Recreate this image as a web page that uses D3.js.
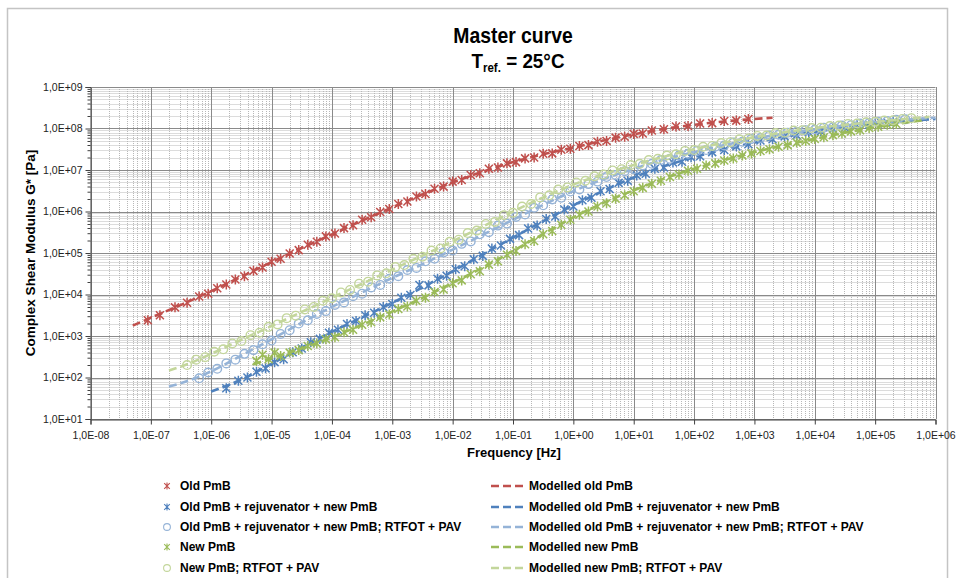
<!DOCTYPE html>
<html>
<head>
<meta charset="utf-8">
<script src="https://cdn.jsdelivr.net/npm/d3@7"></script>
<style>
  html, body { margin: 0; padding: 0; background: #fff; }
  svg { display: block; }
  text { font-family: "Liberation Sans", Arial, sans-serif; }
</style>
</head>
<body>
<svg id="chart" width="958" height="578"></svg>
<script>
// ---- Tick values ----
const xTicks = [1e-8,1e-7,1e-6,1e-5,1e-4,1e-3,1e-2,1e-1,1e0,1e1,1e2,1e3,1e4,1e5,1e6];
const yTicks = [1e1,1e2,1e3,1e4,1e5,1e6,1e7,1e8,1e9];

// ---- Measured data: [log10 frequency (Hz), log10 |G*| (Pa)] ----
const oldPmB = [
 [-7.05,3.38],[-6.85,3.50],[-6.6,3.69],[-6.4,3.80],[-6.2,3.95],[-6.05,4.02],[-5.9,4.15],[-5.75,4.24],
 [-5.6,4.36],[-5.45,4.44],[-5.3,4.57],[-5.15,4.65],[-5.0,4.79],[-4.85,4.86],[-4.7,4.99],[-4.55,5.07],
 [-4.4,5.20],[-4.25,5.27],[-4.1,5.40],[-3.95,5.47],[-3.8,5.60],[-3.65,5.67],[-3.5,5.80],[-3.35,5.86],
 [-3.2,5.99],[-3.05,6.06],[-2.9,6.18],[-2.75,6.24],[-2.6,6.36],[-2.45,6.42],[-2.3,6.55],[-2.15,6.60],
 [-2.0,6.72],[-1.85,6.76],[-1.7,6.88],[-1.55,6.92],[-1.4,7.03],[-1.25,7.06],[-1.1,7.16],[-0.95,7.19],
 [-0.8,7.28],[-0.65,7.30],[-0.5,7.39],[-0.35,7.40],[-0.2,7.49],[-0.05,7.51],[0.1,7.58],[0.25,7.60],
 [0.4,7.68],[0.55,7.70],[0.7,7.78],[0.85,7.80],[1.0,7.87],[1.15,7.88],[1.3,7.95],[1.5,7.98],
 [1.7,8.05],[1.9,8.06],[2.1,8.12],[2.3,8.13],[2.5,8.18],[2.7,8.19],[2.9,8.23]
];
const oldRejNew = [
 [-5.75,1.74],[-5.55,1.92],[-5.4,2.00],[-5.25,2.14],[-5.1,2.22],[-4.95,2.37],[-4.8,2.44],[-4.65,2.61],
 [-4.5,2.70],[-4.35,2.85],[-4.2,2.93],[-4.05,3.08],[-3.9,3.15],[-3.75,3.29],[-3.6,3.36],[-3.45,3.50],
 [-3.3,3.56],[-3.15,3.70],[-3.0,3.77],[-2.85,3.92],[-2.7,3.99],[-2.55,4.23],[-2.4,4.22],[-2.25,4.38],
 [-2.1,4.45],[-1.95,4.61],[-1.8,4.68],[-1.65,4.85],[-1.5,4.93],[-1.35,5.11],[-1.2,5.18],[-1.05,5.34],
 [-0.9,5.43],[-0.75,5.59],[-0.6,5.66],[-0.45,5.82],[-0.3,5.88],[-0.15,6.05],[0.0,6.12],[0.15,6.27],
 [0.3,6.33],[0.45,6.49],[0.6,6.54],[0.75,6.69],[0.9,6.74],[1.05,6.87],[1.2,6.91],[1.35,7.03],
 [1.5,7.06],[1.65,7.18],[1.8,7.20],[1.95,7.31],[2.1,7.33],[2.3,7.43],[2.5,7.48],[2.7,7.57],
 [2.9,7.62],[3.1,7.71],[3.3,7.74],[3.5,7.81],[3.7,7.84],[3.9,7.91],[4.1,7.93],[4.3,8.00],
 [4.5,8.02],[4.7,8.08],[4.9,8.09],[5.1,8.14],[5.3,8.16]
];
const oldRejNewAged = [
 [-6.2,1.98],[-6.05,2.12],[-5.9,2.21],[-5.75,2.34],[-5.6,2.43],[-5.45,2.57],[-5.3,2.66],[-5.15,2.80],
 [-5.0,2.89],[-4.85,3.05],[-4.7,3.14],[-4.55,3.30],[-4.4,3.38],[-4.25,3.53],[-4.1,3.60],[-3.95,3.75],
 [-3.8,3.81],[-3.65,3.96],[-3.5,4.02],[-3.35,4.17],[-3.2,4.23],[-3.05,4.38],[-2.9,4.44],[-2.75,4.59],
 [-2.6,4.64],[-2.45,4.80],[-2.3,4.86],[-2.15,5.01],[-2.0,5.06],[-1.85,5.22],[-1.7,5.28],[-1.55,5.45],
 [-1.4,5.50],[-1.25,5.66],[-1.1,5.71],[-0.95,5.87],[-0.8,5.93],[-0.65,6.09],[-0.5,6.15],[-0.35,6.29],
 [-0.2,6.33],[-0.05,6.48],[0.1,6.53],[0.25,6.66],[0.4,6.72],[0.55,6.83],[0.7,6.88],[0.85,6.97],
 [1.0,7.02],[1.15,7.11],[1.3,7.15],[1.45,7.24],[1.6,7.27],[1.75,7.35],[1.9,7.39],[2.05,7.46],
 [2.2,7.48],[2.35,7.56],[2.5,7.59],[2.65,7.66],[2.8,7.68],[2.95,7.75],[3.1,7.77],[3.25,7.83],
 [3.4,7.85],[3.55,7.90],[3.7,7.92],[3.85,7.96],[4.0,7.97],[4.15,8.02],[4.3,8.03],[4.45,8.07],
 [4.6,8.08],[4.75,8.12],[4.9,8.13],[5.05,8.16],[5.2,8.18],[5.35,8.21],[5.5,8.22]
];
const newPmB = [
 [-5.25,2.40],[-5.15,2.55],[-5.05,2.44],[-4.95,2.60],[-4.85,2.52],[-4.7,2.60],[-4.55,2.66],[-4.4,2.76],
 [-4.25,2.82],[-4.1,2.92],[-3.95,2.97],[-3.8,3.09],[-3.65,3.15],[-3.5,3.27],[-3.35,3.33],[-3.2,3.45],
 [-3.05,3.52],[-2.9,3.65],[-2.75,3.71],[-2.6,3.85],[-2.45,3.92],[-2.3,4.06],[-2.15,4.12],[-2.0,4.27],
 [-1.85,4.34],[-1.7,4.49],[-1.55,4.56],[-1.4,4.72],[-1.25,4.80],[-1.1,4.96],[-0.95,5.05],[-0.8,5.21],
 [-0.65,5.29],[-0.5,5.45],[-0.35,5.53],[-0.2,5.68],[-0.05,5.80],[0.1,5.92],[0.25,6.00],[0.4,6.12],
 [0.55,6.20],[0.7,6.31],[0.85,6.39],[1.0,6.49],[1.15,6.57],[1.3,6.67],[1.45,6.74],[1.6,6.83],
 [1.75,6.89],[1.9,6.98],[2.05,7.03],[2.2,7.11],[2.35,7.16],[2.5,7.23],[2.65,7.28],[2.8,7.35],
 [2.95,7.40],[3.1,7.46],[3.25,7.50],[3.4,7.56],[3.55,7.60],[3.7,7.66],[3.85,7.70],[4.0,7.75],
 [4.15,7.79],[4.3,7.84],[4.45,7.88],[4.6,7.93],[4.75,7.96],[4.9,8.01],[5.05,8.04],[5.2,8.09],[5.35,8.11]
];
const newPmBAged = [
 [-6.4,2.30],[-6.25,2.43],[-6.1,2.49],[-5.95,2.62],[-5.8,2.68],[-5.65,2.82],[-5.5,2.88],[-5.35,3.02],
 [-5.2,3.08],[-5.05,3.22],[-4.9,3.28],[-4.75,3.43],[-4.6,3.49],[-4.45,3.64],[-4.3,3.70],[-4.15,3.85],
 [-4.0,3.91],[-3.85,4.05],[-3.7,4.11],[-3.55,4.26],[-3.4,4.31],[-3.25,4.46],[-3.1,4.51],[-2.95,4.66],
 [-2.8,4.71],[-2.65,4.86],[-2.5,4.91],[-2.35,5.06],[-2.2,5.11],[-2.05,5.27],[-1.9,5.32],[-1.75,5.48],
 [-1.6,5.54],[-1.45,5.70],[-1.3,5.75],[-1.15,5.91],[-1.0,5.97],[-0.85,6.12],[-0.7,6.18],[-0.55,6.34],
 [-0.4,6.39],[-0.25,6.53],[-0.1,6.58],[0.05,6.70],[0.2,6.74],[0.35,6.85],[0.5,6.89],[0.65,6.99],
 [0.8,7.02],[0.95,7.12],[1.1,7.15],[1.25,7.24],[1.4,7.27],[1.55,7.35],[1.7,7.38],[1.85,7.46],
 [2.0,7.48],[2.15,7.56],[2.3,7.58],[2.45,7.65],[2.6,7.67],[2.75,7.74],[2.9,7.76],[3.05,7.82],
 [3.2,7.83],[3.35,7.89],[3.5,7.90],[3.65,7.95],[3.8,7.96],[3.95,8.01],[4.1,8.02],[4.25,8.06],
 [4.4,8.07],[4.55,8.11],[4.7,8.12],[4.85,8.15],[5.0,8.16],[5.15,8.19],[5.3,8.20],[5.45,8.23],[5.6,8.25]
];

// ---- Model curves: [log10 frequency, log10 |G*|] ----
const modelOldPmB = [[-7.3,3.25],[-7,3.44],[-6.5,3.75],[-6,4.08],[-5.5,4.43],[-5,4.78],[-4.5,5.12],[-4,5.45],
 [-3.5,5.78],[-3,6.10],[-2.5,6.41],[-2,6.70],[-1.5,6.96],[-1,7.19],[-0.5,7.38],[0,7.54],[0.5,7.71],
 [1,7.86],[1.5,7.99],[2,8.09],[2.5,8.17],[3,8.23],[3.3,8.26]];
const modelOldRejNew = [[-6.0,1.66],[-5.5,1.95],[-5,2.33],[-4.5,2.72],[-4,3.10],[-3.5,3.45],[-3,3.80],
 [-2.5,4.17],[-2,4.56],[-1.5,4.97],[-1,5.37],[-0.5,5.77],[0,6.15],[0.5,6.50],[1,6.82],[1.5,7.09],
 [2,7.31],[2.5,7.50],[3,7.66],[3.5,7.80],[4,7.92],[4.5,8.03],[5,8.12],[5.5,8.18],[6,8.23]];
const modelOldRejNewAged = [[-6.7,1.78],[-6.2,2.02],[-6,2.15],[-5.5,2.53],[-5,2.92],[-4.5,3.32],[-4,3.70],
 [-3.5,4.05],[-3,4.40],[-2.5,4.73],[-2,5.08],[-1.5,5.44],[-1,5.80],[-0.5,6.16],[0,6.49],[0.5,6.78],
 [1,7.03],[1.5,7.25],[2,7.43],[2.5,7.60],[3,7.75],[3.5,7.88],[4,7.98],[4.5,8.07],[5,8.15],[5.5,8.21],[6,8.26]];
const modelNewPmB = [[-5.3,2.32],[-5,2.46],[-4.5,2.70],[-4,2.97],[-3.5,3.27],[-3,3.59],[-2.5,3.92],
 [-2,4.28],[-1.5,4.65],[-1,5.05],[-0.5,5.46],[0,5.86],[0.5,6.21],[1,6.51],[1.5,6.79],[2,7.03],
 [2.5,7.24],[3,7.43],[3.5,7.60],[4,7.75],[4.5,7.90],[5,8.03],[5.5,8.14],[5.8,8.20]];
const modelNewPmBAged = [[-6.7,2.17],[-6.4,2.32],[-6,2.57],[-5.5,2.91],[-5,3.24],[-4.5,3.58],[-4,3.92],
 [-3.5,4.26],[-3,4.60],[-2.5,4.94],[-2,5.28],[-1.5,5.64],[-1,6.0],[-0.5,6.34],[0,6.65],[0.5,6.90],
 [1,7.12],[1.5,7.32],[2,7.50],[2.5,7.66],[3,7.79],[3.5,7.91],[4,8.01],[4.5,8.09],[5,8.16],[5.5,8.23],[5.9,8.28]];

const dataNames = ["Old PmB","Old PmB + rejuvenator + new PmB","Old PmB + rejuvenator + new PmB; RTFOT + PAV","New PmB","New PmB; RTFOT + PAV"];
const modelNames = ["Modelled old PmB","Modelled old PmB + rejuvenator + new PmB","Modelled old PmB + rejuvenator + new PmB; RTFOT + PAV","Modelled new PmB","Modelled new PmB; RTFOT + PAV"];
const colors = ["#c0504d","#4f81bd","#95b3d7","#9bbb59","#c3d69b"];
const markers = ["star","star","circle","star","circle"];
const dataSets = [oldPmB, oldRejNew, oldRejNewAged, newPmB, newPmBAged];
const modelSets = [modelOldPmB, modelOldRejNew, modelOldRejNewAged, modelNewPmB, modelNewPmBAged];

// ---- Drawing ----
const svg = d3.select("#chart");
svg.append("rect").attr("x",0).attr("y",0).attr("width",958).attr("height",578).attr("fill","#fff");
svg.append("rect").attr("x",7.5).attr("y",8.5).attr("width",940).attr("height",640)
   .attr("fill","none").attr("stroke","#c4c4c4").attr("stroke-width",1.5);

const x = d3.scaleLog().domain([1e-8,1e6]).range([90.5,935.5]);
const y = d3.scaleLog().domain([1e1,1e9]).range([419,87]);

const minorX = [], minorY = [];
for (let e=-8; e<6; e++) for (let k=2; k<10; k++) minorX.push(k*Math.pow(10,e));
for (let e=1; e<9; e++) for (let k=2; k<10; k++) minorY.push(k*Math.pow(10,e));

const grid = svg.append("g");
grid.selectAll(".mx").data(minorX).join("line")
  .attr("x1",d=>Math.round(x(d))+0.5).attr("x2",d=>Math.round(x(d))+0.5).attr("y1",87).attr("y2",419)
  .attr("stroke","#b8b8b8").attr("stroke-width",1).attr("stroke-dasharray","1,1");
grid.selectAll(".my").data(minorY).join("line")
  .attr("y1",d=>Math.round(y(d))+0.5).attr("y2",d=>Math.round(y(d))+0.5).attr("x1",90.5).attr("x2",935.5)
  .attr("stroke","#b8b8b8").attr("stroke-width",1).attr("stroke-dasharray","1,1");
grid.selectAll(".Mx").data(xTicks).join("line")
  .attr("x1",d=>Math.round(x(d))+0.5).attr("x2",d=>Math.round(x(d))+0.5).attr("y1",87).attr("y2",419)
  .attr("stroke","#8a8a8a").attr("stroke-width",1);
grid.selectAll(".My").data(yTicks).join("line")
  .attr("y1",d=>Math.round(y(d))+0.5).attr("y2",d=>Math.round(y(d))+0.5).attr("x1",90.5).attr("x2",935.5)
  .attr("stroke","#8a8a8a").attr("stroke-width",1);

const fmt = d => { const e = Math.round(Math.log10(d)); return "1,0E" + (e<0?"-":"+") + String(Math.abs(e)).padStart(2,"0"); };

const yAxis = svg.append("g").attr("transform","translate(90.5,0)")
  .call(d3.axisLeft(y).tickValues(yTicks).tickFormat(fmt).tickSize(5).tickPadding(3));
const yMinor = svg.append("g").attr("transform","translate(90.5,0)")
  .call(d3.axisLeft(y).tickValues(minorY).tickFormat("").tickSize(3));
const xAxis = svg.append("g").attr("transform","translate(0,419.5)")
  .call(d3.axisBottom(x).tickValues(xTicks).tickFormat(fmt).tickSize(5).tickPadding(7));
[yAxis,yMinor,xAxis].forEach(g=>{
  g.selectAll(".domain").attr("stroke","#404040");
  g.selectAll(".tick line").attr("stroke","#404040");
  g.selectAll("text").attr("font-family","Liberation Sans, Arial, sans-serif").attr("font-size",10.5).attr("fill","#222");
});
yMinor.select(".domain").remove();

const plot = svg.append("g");
const line = d3.line().x(d=>x(Math.pow(10,d[0]))).y(d=>y(Math.pow(10,d[1]))).curve(d3.curveMonotoneX);
const starPath = s => `M${-s},${-s}L${s},${s}M${-s},${s}L${s},${-s}M0,${-s*1.25}L0,${s*1.25}`;

dataSets.forEach((ds,i)=>{
  const g = plot.append("g");
  if (markers[i]==="star") {
    g.selectAll("path").data(ds).join("path")
      .attr("transform",d=>`translate(${x(Math.pow(10,d[0]))},${y(Math.pow(10,d[1]))})`)
      .attr("d",starPath(4)).attr("fill","none").attr("stroke",colors[i]).attr("stroke-width",1.5);
  } else {
    g.selectAll("circle").data(ds).join("circle")
      .attr("cx",d=>x(Math.pow(10,d[0]))).attr("cy",d=>y(Math.pow(10,d[1]))).attr("r",4.3)
      .attr("fill","none").attr("stroke",colors[i]).attr("stroke-width",1.4);
  }
  plot.append("path").datum(modelSets[i]).attr("d",line)
    .attr("fill","none").attr("stroke",colors[i]).attr("stroke-width",2.6).attr("stroke-dasharray","8,4");
});

// titles (condensed bold look)
svg.append("text").attr("transform","translate(513,43) scale(0.88,1)").attr("text-anchor","middle")
  .attr("font-size",22).attr("font-weight","bold").attr("fill","#000").text("Master curve");
const t2 = svg.append("text").attr("transform","translate(518,68) scale(0.92,1)").attr("text-anchor","middle")
  .attr("font-size",20.5).attr("font-weight","bold").attr("fill","#000");
t2.append("tspan").text("T");
t2.append("tspan").attr("font-size",12.5).attr("dy",4).text("ref.");
t2.append("tspan").attr("dy",-4).text(" = 25°C");

svg.append("text").attr("x",514).attr("y",457).attr("text-anchor","middle")
  .attr("font-size",13).attr("font-weight","bold").attr("fill","#000").text("Frequency [Hz]");
svg.append("text").attr("transform","translate(35,253) rotate(-90)").attr("text-anchor","middle")
  .attr("font-size",13.5).attr("font-weight","bold").attr("fill","#000").text("Complex Shear Modulus G* [Pa]");

// legend
const rowY = [486,507,527,547,568];
const leg = svg.append("g");
dataNames.forEach((n,i)=>{
  const cy = rowY[i];
  if (markers[i]==="star") {
    leg.append("path").attr("transform",`translate(167,${cy})`).attr("d",starPath(2.8))
      .attr("fill","none").attr("stroke",colors[i]).attr("stroke-width",1.1);
  } else {
    leg.append("circle").attr("cx",167).attr("cy",cy).attr("r",3.4)
      .attr("fill","none").attr("stroke",colors[i]).attr("stroke-width",1.1);
  }
  leg.append("text").attr("x",180).attr("y",cy+4.3).attr("font-size",12).attr("font-weight","bold").attr("fill","#000").text(n);
  leg.append("line").attr("x1",491).attr("x2",523).attr("y1",cy).attr("y2",cy)
    .attr("stroke",colors[i]).attr("stroke-width",2.6).attr("stroke-dasharray","8,4");
  leg.append("text").attr("x",529).attr("y",cy+4.3).attr("font-size",12).attr("font-weight","bold").attr("fill","#000").text(modelNames[i]);
});
</script>
</body>
</html>
